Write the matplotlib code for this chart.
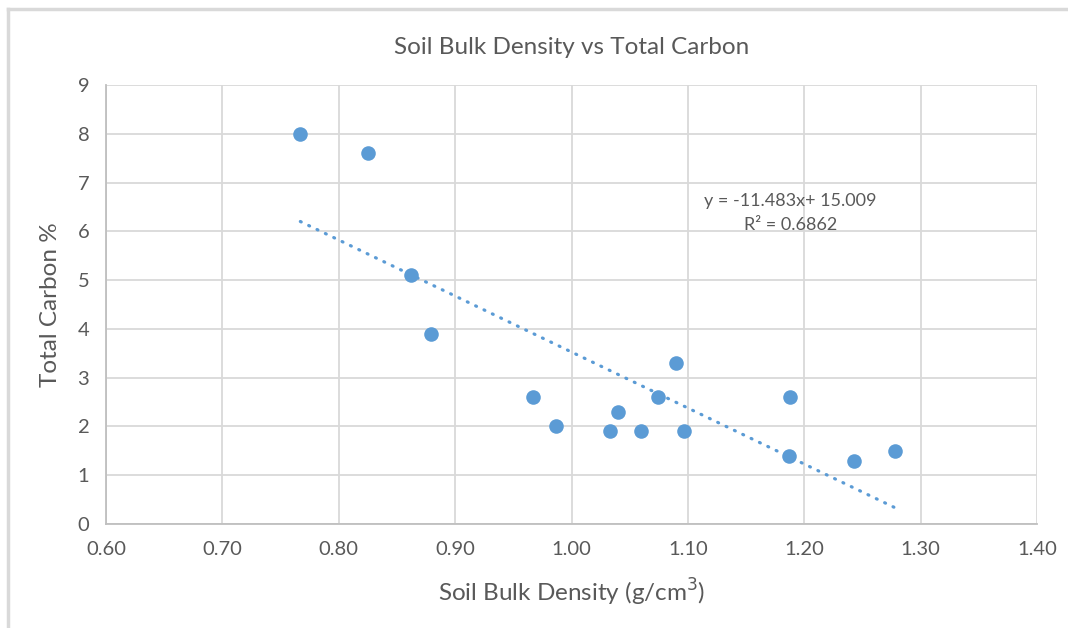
import matplotlib
matplotlib.use("Agg")
import matplotlib.pyplot as plt
import numpy as np
from matplotlib.lines import Line2D

# Soil samples
bulk_density = [0.767, 0.825, 0.862, 0.879, 0.967, 0.987, 1.033, 1.040,
                1.060, 1.074, 1.090, 1.097, 1.188, 1.187, 1.243, 1.278]
total_carbon = [8.0, 7.6, 5.1, 3.9, 2.6, 2.0, 1.9, 2.3,
                1.9, 2.6, 3.3, 1.9, 2.6, 1.4, 1.3, 1.5]

# Linear trendline shown on the chart
slope = -11.483
intercept = 15.009
r_squared = 0.6862

x_ticks = [0.60, 0.70, 0.80, 0.90, 1.00, 1.10, 1.20, 1.30, 1.40]
y_ticks = list(range(0, 10))

blue = "#5B9BD5"
grey_text = "#595959"
grid_col = "#D9D9D9"

plt.rcParams["font.family"] = ["Lato", "DejaVu Sans"]

fig = plt.figure(figsize=(10.68, 6.28), dpi=100)
ax = fig.add_axes([106 / 1068, 1 - 524 / 628, (1037 - 106) / 1068, (524 - 85) / 628])

# chart frame (top and left visible, rest cut off)
fig.add_artist(Line2D([8 / 1068, 1.0], [1 - 9 / 628, 1 - 9 / 628], color=grid_col, lw=2.5,
                      transform=fig.transFigure))
fig.add_artist(Line2D([8 / 1068, 8 / 1068], [0.0, 1 - 9 / 628], color=grid_col, lw=2.5,
                      transform=fig.transFigure))

ax.scatter(bulk_density, total_carbon, s=110, color=blue, zorder=3, linewidths=0)

xs = np.array([min(bulk_density), max(bulk_density)])
ax.plot(xs, slope * xs + intercept, color=blue, lw=2.3,
        linestyle=(0, (0.3, 2.6)), dash_capstyle="round", zorder=2)

ax.text(1.188, 6.62, f"y = {slope}x+ {intercept:.3f}", ha="center", va="center",
        fontsize=13, color=grey_text)
ax.text(1.188, 6.12, f"R² = {r_squared}", ha="center", va="center",
        fontsize=13, color=grey_text)

ax.set_xlim(0.60, 1.40)
ax.set_ylim(0, 9)
ax.set_xticks(x_ticks)
ax.set_xticklabels([f"{t:.2f}" for t in x_ticks])
ax.set_yticks(y_ticks)
ax.grid(True, color=grid_col, lw=1.3)
ax.set_axisbelow(True)
for side in ["top", "right"]:
    ax.spines[side].set_visible(False)
for side in ["left", "bottom"]:
    ax.spines[side].set_color("#BFBFBF")
    ax.spines[side].set_linewidth(1.3)
ax.tick_params(length=0, labelsize=14.5, labelcolor=grey_text, pad=12)

ax.set_xlabel("Soil Bulk Density (g/cm$^3$)", fontsize=17.5, color=grey_text, labelpad=14)
ax.set_ylabel("Total Carbon %", fontsize=17.5, color=grey_text, labelpad=12)
ax.set_title("Soil Bulk Density vs Total Carbon", fontsize=17.5, color=grey_text, pad=22)

fig.savefig("out.png", dpi=100, facecolor="white")
